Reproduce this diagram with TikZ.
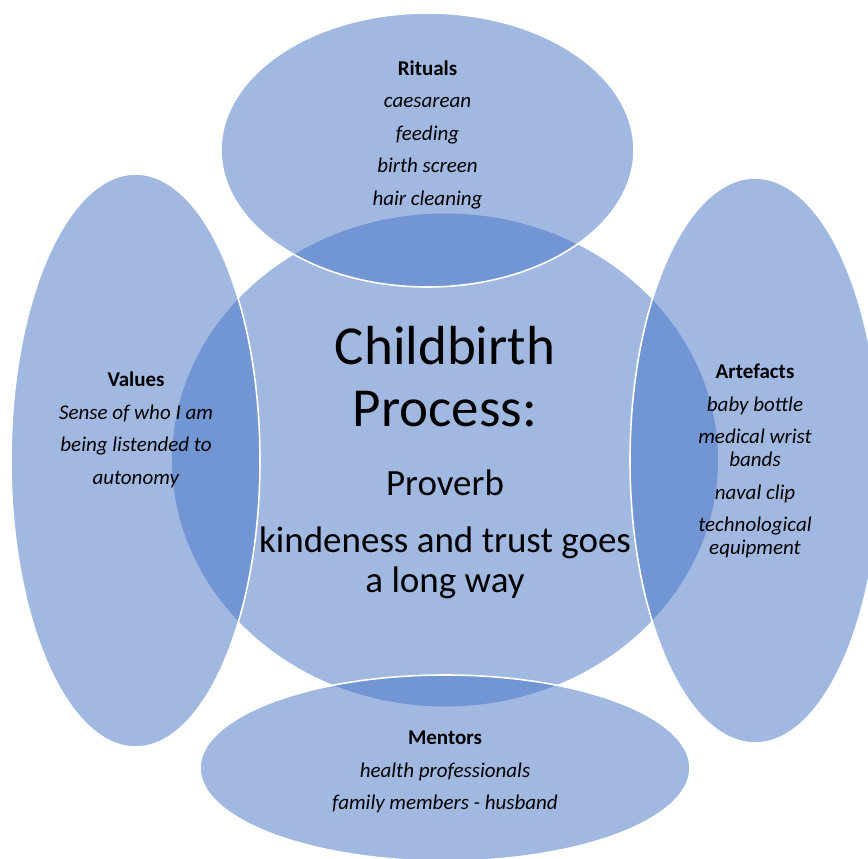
\documentclass[tikz,border=0pt]{standalone}
\usepackage{fontspec}
\setmainfont{Carlito}
\usetikzlibrary{shapes.geometric}
\definecolor{acc}{HTML}{4472C4}
\begin{document}
\begin{tikzpicture}[x=1pt,y=-1pt,
  blob/.style={ellipse, fill=acc, fill opacity=0.5, draw=white, draw opacity=1, line width=1.6pt, inner sep=0pt, outer sep=0pt},
  hub/.style={ellipse, fill=acc, fill opacity=0.5, inner sep=0pt, outer sep=0pt},
  sattext/.style={align=center, inner sep=0pt, font=\fontsize{21}{23}\selectfont},
  titletext/.style={align=center, inner sep=0pt, font=\fontsize{55}{62}\selectfont},
  provtext/.style={align=center, inner sep=0pt, font=\fontsize{37}{40}\selectfont}]
\useasboundingbox (0,0) rectangle (868,859);
\begin{scope}
\clip (0,0) rectangle (868,859);
\node[hub, minimum width=546pt, minimum height=493pt] (hub) at (445,460) {};
\node[blob, minimum width=413pt, minimum height=274pt] (top) at (427.5,150) {};
\node[blob, minimum width=249pt, minimum height=573pt] (left) at (135.5,460.5) {};
\node[blob, minimum width=250pt, minimum height=565pt] (right) at (755,460.5) {};
\node[blob, minimum width=490pt, minimum height=186pt] (bottom) at (445,768) {};
\end{scope}
\node[titletext] (title) at (445,377) {Childbirth\\Process:};
\node[provtext] (prov) at (445,534.5) {Proverb\\[17pt]kindeness and trust goes\\a long way};
\node[sattext] (ritualsT) at (427.5,134.5) {\textbf{Rituals}\\[9.5pt]\textit{caesarean}\\[9.5pt]\textit{feeding}\\[9.5pt]\textit{birth screen}\\[9.5pt]\textit{hair cleaning}};
\node[sattext] (valuesT) at (136,430) {\textbf{Values}\\[9.5pt]\textit{Sense of who I am}\\[9.5pt]\textit{being listended to}\\[9.5pt]\textit{autonomy}};
\node[sattext] (artefactsT) at (755,461) {\textbf{Artefacts}\\[9.5pt]\textit{baby bottle}\\[9.5pt]\textit{medical wrist}\\\textit{bands}\\[9.5pt]\textit{naval clip}\\[9.5pt]\textit{technological}\\\textit{equipment}};
\node[sattext] (mentorsT) at (445,772) {\textbf{Mentors}\\[9.5pt]\textit{health professionals}\\[9.5pt]\textit{family members - husband}};
\end{tikzpicture}
\end{document}
